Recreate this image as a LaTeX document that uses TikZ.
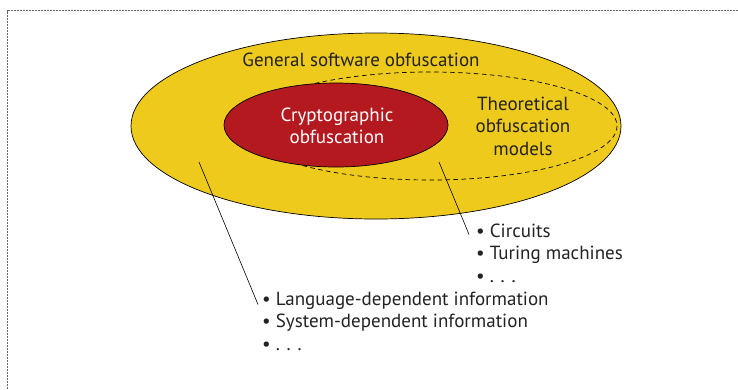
\documentclass[tikz,border=0pt]{standalone}
\usepackage{fontspec}
\setmainfont{PT Sans}
\definecolor{ygold}{HTML}{EECA1D}
\definecolor{cred}{HTML}{B3191F}
\definecolor{txt}{HTML}{222222}
\begin{document}
\begin{tikzpicture}[x=1pt,y=-1pt,
  lbl/.style={font=\fontsize{19}{22.5}\selectfont, text=txt, inner sep=0pt, align=center},
  lst/.style={font=\fontsize{19}{22.5}\selectfont, text=txt, inner sep=0pt, align=left},
  conn/.style={draw=black, line width=0.6pt}]
\useasboundingbox (0,0) rectangle (738,389);
% frame
\draw[gray!80!black, line width=0.7pt, dash pattern=on 0.7pt off 0.8pt] (7,389) -- (7,10.5) -- (738,10.5);
% ellipses
\filldraw[fill=ygold, draw=black, line width=0.7pt] (376,126) ellipse [x radius=245, y radius=93];
\draw[black, line width=0.7pt, dash pattern=on 4.5pt off 3.5pt] (430,126) ellipse [x radius=187, y radius=54];
\filldraw[fill=cred, draw=black, line width=0.7pt] (336,125) ellipse [x radius=112, y radius=42];
% labels
\node[lbl] (gen) at (361,60) {General software obfuscation};
\node[lbl, text=white] (crypto) at (337,126) {Cryptographic\\obfuscation};
\node[lbl] (theo) at (523,126) {Theoretical\\obfuscation\\models};
% lists
\node[lst, anchor=west] (rlist) at (476,253) {• Circuits\\• Turing machines\\• . . .};
\node[lst, anchor=west] (llist) at (262,321) {• Language-dependent information\\• System-dependent information\\• . . .};
% connectors
\coordinate (la) at (199,162);
\coordinate (ra) at (439,162);
\draw[conn] (la) -- ([xshift=-4pt,yshift=-13pt]llist.north west);
\draw[conn] (ra) -- ([xshift=-7pt,yshift=-11pt]rlist.north west);
\end{tikzpicture}
\end{document}
